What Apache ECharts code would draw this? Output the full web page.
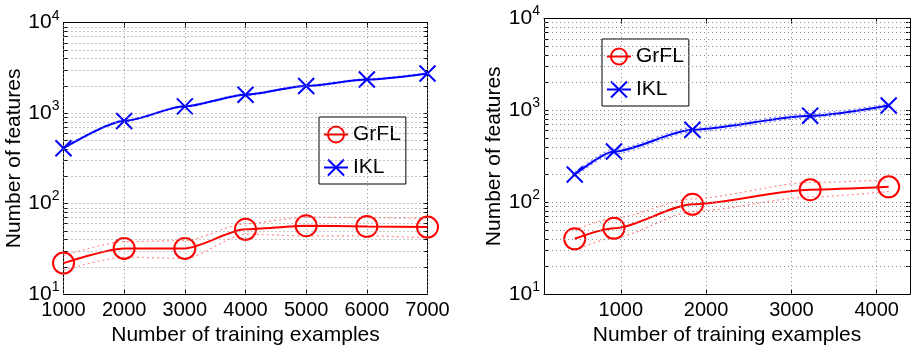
<!DOCTYPE html>
<html>
<head>
<meta charset="utf-8">
<script src="https://cdn.jsdelivr.net/npm/echarts@6/dist/echarts.min.js"></script>
<style>
html,body{margin:0;padding:0;background:#fff;}
#chart{width:911px;height:351px;}
</style>
</head>
<body>
<div id="chart"></div>
<script>
// ---- data ----
const leftX = [1000, 2000, 3000, 4000, 5000, 6000, 7000];
const leftGrFL = [22, 32, 32, 52, 57, 56, 55];
const leftGrFLUpper = [26.7, 38, 39, 60, 71, 70, 69];
const leftGrFLLower = [18.4, 25.6, 24.8, 46, 44, 44, 42];
const leftIKL = [410, 820, 1190, 1600, 2000, 2360, 2750];
const leftIKLUpper = [418, 836, 1212, 1630, 2036, 2402, 2798];
const leftIKLLower = [402, 804, 1168, 1570, 1964, 2318, 2702];

const rightX = [460, 920, 1840, 3220, 4140];
const rightGrFL = [40, 52, 95, 137, 147];
const rightGrFLUpper = [50, 67, 109, 164, 175];
const rightGrFLLower = [30, 41, 79, 114, 131];
const rightIKL = [200, 356, 614, 873, 1130];
const rightIKLUpper = [211, 378, 648, 918, 1185];
const rightIKLLower = [190, 336, 582, 830, 1078];

const leftXTicks = [1000, 2000, 3000, 4000, 5000, 6000, 7000];
const rightXTicks = [1000, 2000, 3000, 4000];
const yTicks = [10, 100, 1000, 10000];
const yGridValues = [20,30,40,50,60,70,80,90,100,200,300,400,500,600,700,800,900,1000,2000,3000,4000,5000,6000,7000,8000,9000];

const seriesNames = ['GrFL', 'IKL'];

// ---- styling ----
const FONT = "'Liberation Sans', Arial, Helvetica, sans-serif";
const RED = '#ff0000', BLUE = '#0000ff';
const XSYM = 'path://M0,0L10,10M10,0L0,10';

function pairs(xs, ys) { return xs.map((x, i) => [x, ys[i]]); }

function yLabel(v) {
  const e = Math.round(Math.log10(v));
  return '{b|10}{s|' + e + '}';
}

function makeXAxis(gi, min, max, ticks) {
  return {
    type: 'value', gridIndex: gi, min: min, max: max, position: 'bottom',
    name: 'Number of training examples', nameLocation: 'middle', nameGap: 24,
    nameTextStyle: { fontSize: 21, fontFamily: FONT, color: '#000' },
    axisLine: { show: true, lineStyle: { color: '#000', width: 1 } },
    axisTick: { show: true, inside: true, length: 5, customValues: ticks, lineStyle: { color: '#000' } },
    axisLabel: { customValues: ticks, fontSize: 20, fontFamily: FONT, color: '#000', margin: 6, formatter: v => String(v) },
    splitLine: { show: false }
  };
}
function makeXAxisTop(gi, min, max, ticks) {
  return {
    type: 'value', gridIndex: gi, min: min, max: max, position: 'top',
    axisLine: { show: true, lineStyle: { color: '#000', width: 1 } },
    axisTick: { show: true, inside: true, length: 5, customValues: ticks, lineStyle: { color: '#000' } },
    axisLabel: { show: false },
    splitLine: { show: false }
  };
}
function makeYAxis(gi, gap) {
  return {
    type: 'log', logBase: 10, gridIndex: gi, min: 10, max: 10000, position: 'left',
    name: 'Number of features', nameLocation: 'middle', nameGap: gap, nameRotate: 90,
    nameTextStyle: { fontSize: 21, fontFamily: FONT, color: '#000' },
    axisLine: { show: true, lineStyle: { color: '#000', width: 1 } },
    axisTick: { show: true, inside: true, length: 4, customValues: yTicks.concat(yGridValues), lineStyle: { color: '#000' } },
    axisLabel: {
      customValues: yTicks, margin: 4, formatter: yLabel,
      rich: {
        b: { fontSize: 21, fontFamily: FONT, color: '#000', verticalAlign: 'middle' },
        s: { fontSize: 14, fontFamily: FONT, color: '#000', verticalAlign: 'top', padding: [0, 0, 14, 0] }
      }
    },
    splitLine: { show: false }
  };
}
function makeYAxisRight(gi) {
  return {
    type: 'log', logBase: 10, gridIndex: gi, min: 10, max: 10000, position: 'right',
    axisLine: { show: true, lineStyle: { color: '#000', width: 1 } },
    axisTick: { show: true, inside: true, length: 4, customValues: yTicks.concat(yGridValues), lineStyle: { color: '#000' } },
    axisLabel: { show: false },
    splitLine: { show: false }
  };
}

function gridSeries(gi, xs, ys, xticks) {
  return {
    name: 'grid' + gi, type: 'line', xAxisIndex: gi, yAxisIndex: gi, z: 1,
    data: pairs(xs, ys), showSymbol: false, symbol: 'none',
    lineStyle: { opacity: 0 }, silent: true, animation: false,
    markLine: {
      silent: true, symbol: ['none', 'none'], animation: false,
      label: { show: false },
      lineStyle: { type: [1, 3], color: '#8a8a8a', width: 1 },
      data: xticks.map(v => ({ xAxis: v })).concat(yGridValues.map(v => ({ yAxis: v })))
    }
  };
}
function bandSeries(gi, xs, ys, color) {
  return {
    name: 'band', type: 'line', xAxisIndex: gi, yAxisIndex: gi, z: 2,
    data: pairs(xs, ys), symbol: 'none', showSymbol: false, silent: true,
    smooth: 0.25, smoothMonotone: 'x',
    lineStyle: { type: [2, 3], color: color, width: 1.2 }
  };
}
function mainSeries(gi, name, xs, ys) {
  const isG = name === 'GrFL';
  const c = isG ? RED : BLUE;
  return {
    name: name, type: 'line', xAxisIndex: gi, yAxisIndex: gi, z: 3,
    data: pairs(xs, ys), smooth: 0.25, smoothMonotone: 'x',
    symbol: isG ? 'circle' : XSYM, symbolSize: isG ? 21 : 16,
    lineStyle: { color: c, width: 2 },
    itemStyle: { color: isG ? 'rgba(0,0,0,0)' : c, borderColor: c, borderWidth: 2 }
  };
}
function makeLegend(left, top) {
  return {
    left: left, top: top, orient: 'vertical', data: seriesNames,
    backgroundColor: '#fff', borderColor: '#000', borderWidth: 1, borderRadius: 0,
    padding: [7, 5, 6, 4], itemGap: 12, itemWidth: 24, itemHeight: 20,
    textStyle: { fontSize: 21, fontFamily: FONT, color: '#000' },
    selectedMode: false
  };
}

const chart = echarts.init(document.getElementById('chart'), null, { renderer: 'canvas' });
chart.setOption({
  animation: false,
  backgroundColor: '#fff',
  grid: [
    { left: 63.5, top: 22.7, width: 364, height: 277.8, show: false },
    { left: 544, top: 18.5, width: 366, height: 282.5, show: false }
  ],
  xAxis: [makeXAxis(0, 1000, 7000, leftXTicks), makeXAxis(1, 100, 4390, rightXTicks),
          makeXAxisTop(0, 1000, 7000, leftXTicks), makeXAxisTop(1, 100, 4390, rightXTicks)],
  yAxis: [makeYAxis(0, 37), makeYAxis(1, 39), makeYAxisRight(0), makeYAxisRight(1)],
  legend: [makeLegend(319, 117), makeLegend(602, 39)],
  series: [
    gridSeries(0, leftX, leftGrFL, leftXTicks),
    gridSeries(1, rightX, rightGrFL, rightXTicks),
    bandSeries(0, leftX, leftGrFLUpper, '#ff8a8a'),
    bandSeries(0, leftX, leftGrFLLower, '#ff8a8a'),
    bandSeries(0, leftX, leftIKLUpper, '#9a9aff'),
    bandSeries(0, leftX, leftIKLLower, '#9a9aff'),
    bandSeries(1, rightX, rightGrFLUpper, '#ff8a8a'),
    bandSeries(1, rightX, rightGrFLLower, '#ff8a8a'),
    bandSeries(1, rightX, rightIKLUpper, '#8a8aff'),
    bandSeries(1, rightX, rightIKLLower, '#8a8aff'),
    mainSeries(0, 'GrFL', leftX, leftGrFL),
    mainSeries(0, 'IKL', leftX, leftIKL),
    mainSeries(1, 'GrFL', rightX, rightGrFL),
    mainSeries(1, 'IKL', rightX, rightIKL)
  ]
});
</script>
</body>
</html>
